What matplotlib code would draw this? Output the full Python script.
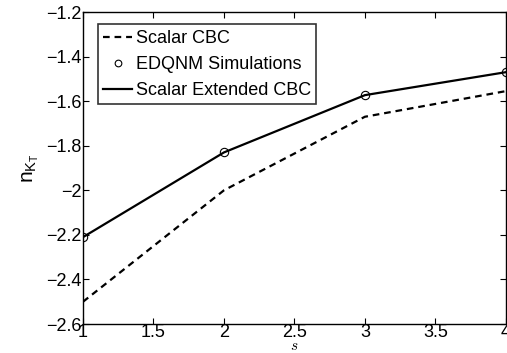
import matplotlib
matplotlib.use("Agg")
import matplotlib.pyplot as plt

plt.rcParams["font.family"] = ["Liberation Sans", "DejaVu Sans"]
plt.rcParams["mathtext.fontset"] = "cm"

s_vals = [1, 2, 3, 4]
scalar_cbc = [-2.5, -2.0, -1.67, -1.555]
edqnm_sim = [-2.21, -1.83, -1.573, -1.47]
scalar_ext_cbc = [-2.21, -1.83, -1.573, -1.47]

xticks = [1, 1.5, 2, 2.5, 3, 3.5, 4]
yticks = [-2.6, -2.4, -2.2, -2, -1.8, -1.6, -1.4, -1.2]

fig = plt.figure(figsize=(5.07, 3.53), dpi=100)
ax = fig.add_axes([0.1637, 0.082, 0.834, 0.884])

ax.plot(s_vals, scalar_cbc, "k--", lw=1.6, dashes=(3, 2.2), label="Scalar CBC")
ax.plot(s_vals, edqnm_sim, "ko", mfc="none", ms=6, mew=0.8, label="EDQNM Simulations")
ax.plot(s_vals, scalar_ext_cbc, "k-", lw=1.6, label="Scalar Extended CBC")

ax.set_xlim(1, 4)
ax.set_ylim(-2.6, -1.2)
ax.set_xticks(xticks)
ax.set_xticklabels(["1", "1.5", "2", "2.5", "3", "3.5", "4"])
ax.set_yticks(yticks)
ax.set_yticklabels(["\u22122.6", "\u22122.4", "\u22122.2", "\u22122", "\u22121.8",
                    "\u22121.6", "\u22121.4", "\u22121.2"])
ax.tick_params(direction="in", length=4, width=0.8, top=True, right=True,
               labelsize=13, pad=1, colors="black")
ax.tick_params(axis="x", pad=0)
for sp in ax.spines.values():
    sp.set_linewidth(1.0)

ax.set_ylabel(r"$\mathregular{n_{K_T}}$", fontsize=15, labelpad=4)
fig.text(294 / 507, 1 - 346 / 353, r"$s$", fontsize=11, ha="center", va="center")

leg = ax.legend(loc="upper left", bbox_to_anchor=(0.035, 0.96), fontsize=13,
                frameon=True, fancybox=False, handlelength=1.6, handletextpad=0.2,
                borderpad=0.3, labelspacing=0.5, borderaxespad=0, markerscale=0.8)
leg.get_frame().set_edgecolor("black")
leg.get_frame().set_linewidth(1.2)

fig.savefig("out.png", dpi=100)
